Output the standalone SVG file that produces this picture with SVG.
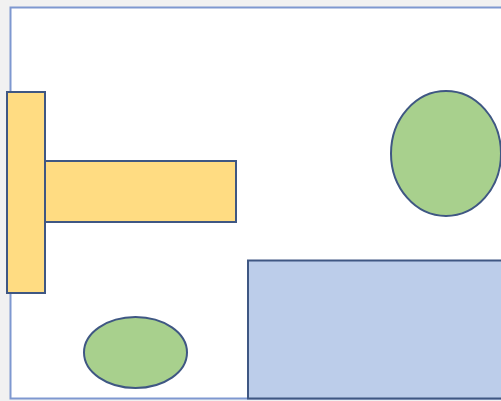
<svg xmlns="http://www.w3.org/2000/svg" width="501" height="401" viewBox="0 0 501 401">
<style>
.shape{stroke:#3f5783;stroke-width:2}
.yellow{fill:#ffdc82}
.green{fill:#a8d08d}
.blue{fill:#bccdea}
</style>
<rect x="0" y="0" width="501" height="401" fill="#f1f1f1"/>
<rect id="frame" x="10.5" y="7.5" width="500" height="391" fill="#ffffff" stroke="#7e98d0" stroke-width="2"/>
<g id="yellow-bar-horizontal"><rect class="shape yellow" x="45" y="161" width="191" height="61"/></g>
<g id="yellow-bar-vertical"><rect class="shape yellow" x="7" y="92" width="38" height="201"/></g>
<g id="ellipse-right"><ellipse class="shape green" cx="446" cy="153.5" rx="55" ry="62.5"/></g>
<g id="ellipse-bottom"><ellipse class="shape green" cx="135.5" cy="352.5" rx="51.5" ry="35.5"/></g>
<g id="blue-rect"><rect class="shape blue" x="248" y="260.5" width="260" height="138"/></g>
<g id="connectors"></g>
</svg>
